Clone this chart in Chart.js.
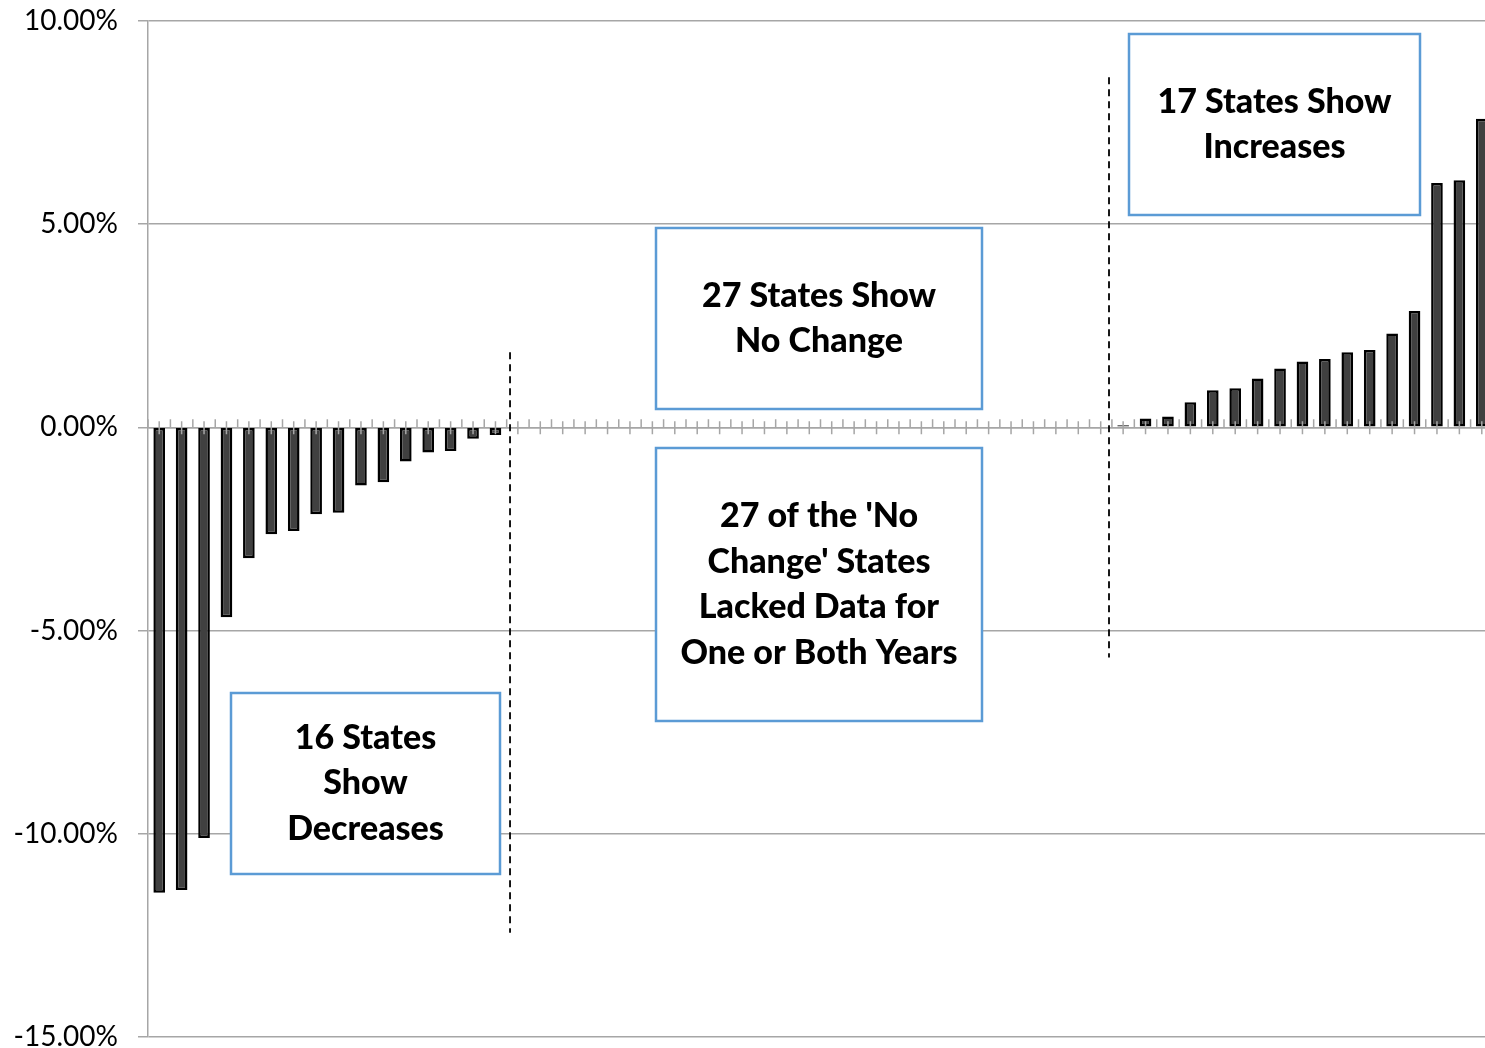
<!DOCTYPE html>
<html>
<head>
<meta charset="utf-8">
<script src="https://cdn.jsdelivr.net/npm/chart.js@4/dist/chart.umd.min.js"></script>
<style>
  html, body { margin: 0; padding: 0; overflow: hidden; background: #fff; }
  #wrap { width: 1485px; height: 1048px; overflow: hidden; }
  #chart { display: block; margin-top: -16px; }
</style>
</head>
<body>
<div id="wrap"><canvas id="chart" width="1493" height="1090"></canvas></div>
<script>
// percent change per state, sorted
const decreases = [-11.45, -11.38, -10.1, -4.67, -3.22, -2.63, -2.55, -2.14, -2.1, -1.43, -1.35, -0.84, -0.62, -0.58, -0.28, -0.19];
const noChange = [0, 0, 0, 0, 0, 0, 0, 0, 0, 0, 0, 0, 0, 0, 0, 0, 0, 0, 0, 0, 0, 0, 0, 0, 0, 0, 0];
const increases = [0.05, 0.22, 0.27, 0.62, 0.91, 0.96, 1.2, 1.45, 1.62, 1.68, 1.85, 1.9, 2.31, 2.86, 6.01, 6.08, 7.59];

const values = [...decreases, ...noChange, ...increases];
const states = values.map((v, i) => 'State ' + (i + 1));

const yMin = -15;
const yMax = 10;
const yStep = 5;

// dashed separators: category position, vertical extent in % units
const separators = [
    { at: 15.65, top: 1.85, bottom: -12.43 },
    { at: 42.37, top: 8.61, bottom: -5.66 }
];

// text boxes (page pixels)
const notes = [
    { x: 1129, y: 34, w: 291, h: 181, lines: ['17 States Show', 'Increases'] },
    { x: 656, y: 228, w: 326, h: 181, lines: ['27 States Show', 'No Change'] },
    { x: 656, y: 448, w: 326, h: 273, lines: ["27 of the 'No", "Change' States", 'Lacked Data for', 'One or Both Years'] },
    { x: 231, y: 693, w: 269, h: 181, lines: ['16 States', 'Show', 'Decreases'] }
];
const pageShift = 16; // canvas sits 16px above the page top

const GRID = '#a6a6a6';

const axisTicks = {
    id: 'axisTicks',
    afterDatasetsDraw(chart) {
        const ctx = chart.ctx;
        const x = chart.scales.x;
        const y = chart.scales.y;
        const y0 = y.getPixelForValue(0);
        const step = x.getPixelForValue(1) - x.getPixelForValue(0);
        ctx.save();
        ctx.strokeStyle = GRID;
        ctx.lineWidth = 1.5;
        ctx.beginPath();
        for (let i = 0; i < values.length; i++) {
            const cx = x.getPixelForValue(i);
            ctx.moveTo(cx, y0 - 6);
            ctx.lineTo(cx, y0 + 7);
            const bx = cx - step / 2;
            ctx.moveTo(bx, y0 - 8);
            ctx.lineTo(bx, y0);
        }
        ctx.stroke();

        // dashed separators
        ctx.strokeStyle = '#000';
        ctx.lineWidth = 1.8;
        ctx.setLineDash([7, 5]);
        separators.forEach(s => {
            const sx = x.getPixelForValue(0) + s.at * step;
            ctx.beginPath();
            ctx.moveTo(sx, y.getPixelForValue(s.top));
            ctx.lineTo(sx, y.getPixelForValue(s.bottom));
            ctx.stroke();
        });
        ctx.setLineDash([]);

        // note boxes
        ctx.font = '900 34px Lato';
        ctx.textAlign = 'center';
        ctx.textBaseline = 'middle';
        notes.forEach(n => {
            const ny = n.y + pageShift;
            ctx.fillStyle = '#fff';
            ctx.fillRect(n.x, ny, n.w, n.h);
            ctx.strokeStyle = '#5b9bd5';
            ctx.lineWidth = 2.5;
            ctx.strokeRect(n.x, ny, n.w, n.h);
            ctx.fillStyle = '#000';
            const cy = ny + n.h / 2;
            const lh = 45.5;
            n.lines.forEach((t, k) => {
                ctx.fillText(t, n.x + n.w / 2, cy + (k - (n.lines.length - 1) / 2) * lh);
            });
        });
        ctx.restore();
    }
};

new Chart(document.getElementById('chart'), {
    type: 'bar',
    data: {
        labels: states,
        datasets: [{
            data: values,
            backgroundColor: '#404040',
            borderColor: '#000',
            borderWidth: 2.5,
            borderSkipped: false,
            categoryPercentage: 1,
            barPercentage: 0.52
        }]
    },
    options: {
        responsive: false,
        animation: false,
        devicePixelRatio: 1,
        layout: { padding: { top: 5, bottom: 0, left: 0, right: 0 } },
        plugins: {
            legend: { display: false },
            tooltip: { enabled: false }
        },
        scales: {
            x: {
                position: { y: 0 },
                grid: { display: false },
                ticks: { display: false },
                border: { display: true, color: GRID, width: 1.5 }
            },
            y: {
                min: yMin,
                max: yMax,
                ticks: {
                    stepSize: yStep,
                    padding: 20,
                    color: '#000',
                    font: { family: 'Lato', size: 28 },
                    callback: v => v.toFixed(2) + '%'
                },
                grid: { color: GRID, lineWidth: 1.5, tickLength: 10 },
                border: { color: GRID, width: 1.5 },
                afterFit: s => { s.width = 148; }
            }
        }
    },
    plugins: [axisTicks]
});
</script>
</body>
</html>
